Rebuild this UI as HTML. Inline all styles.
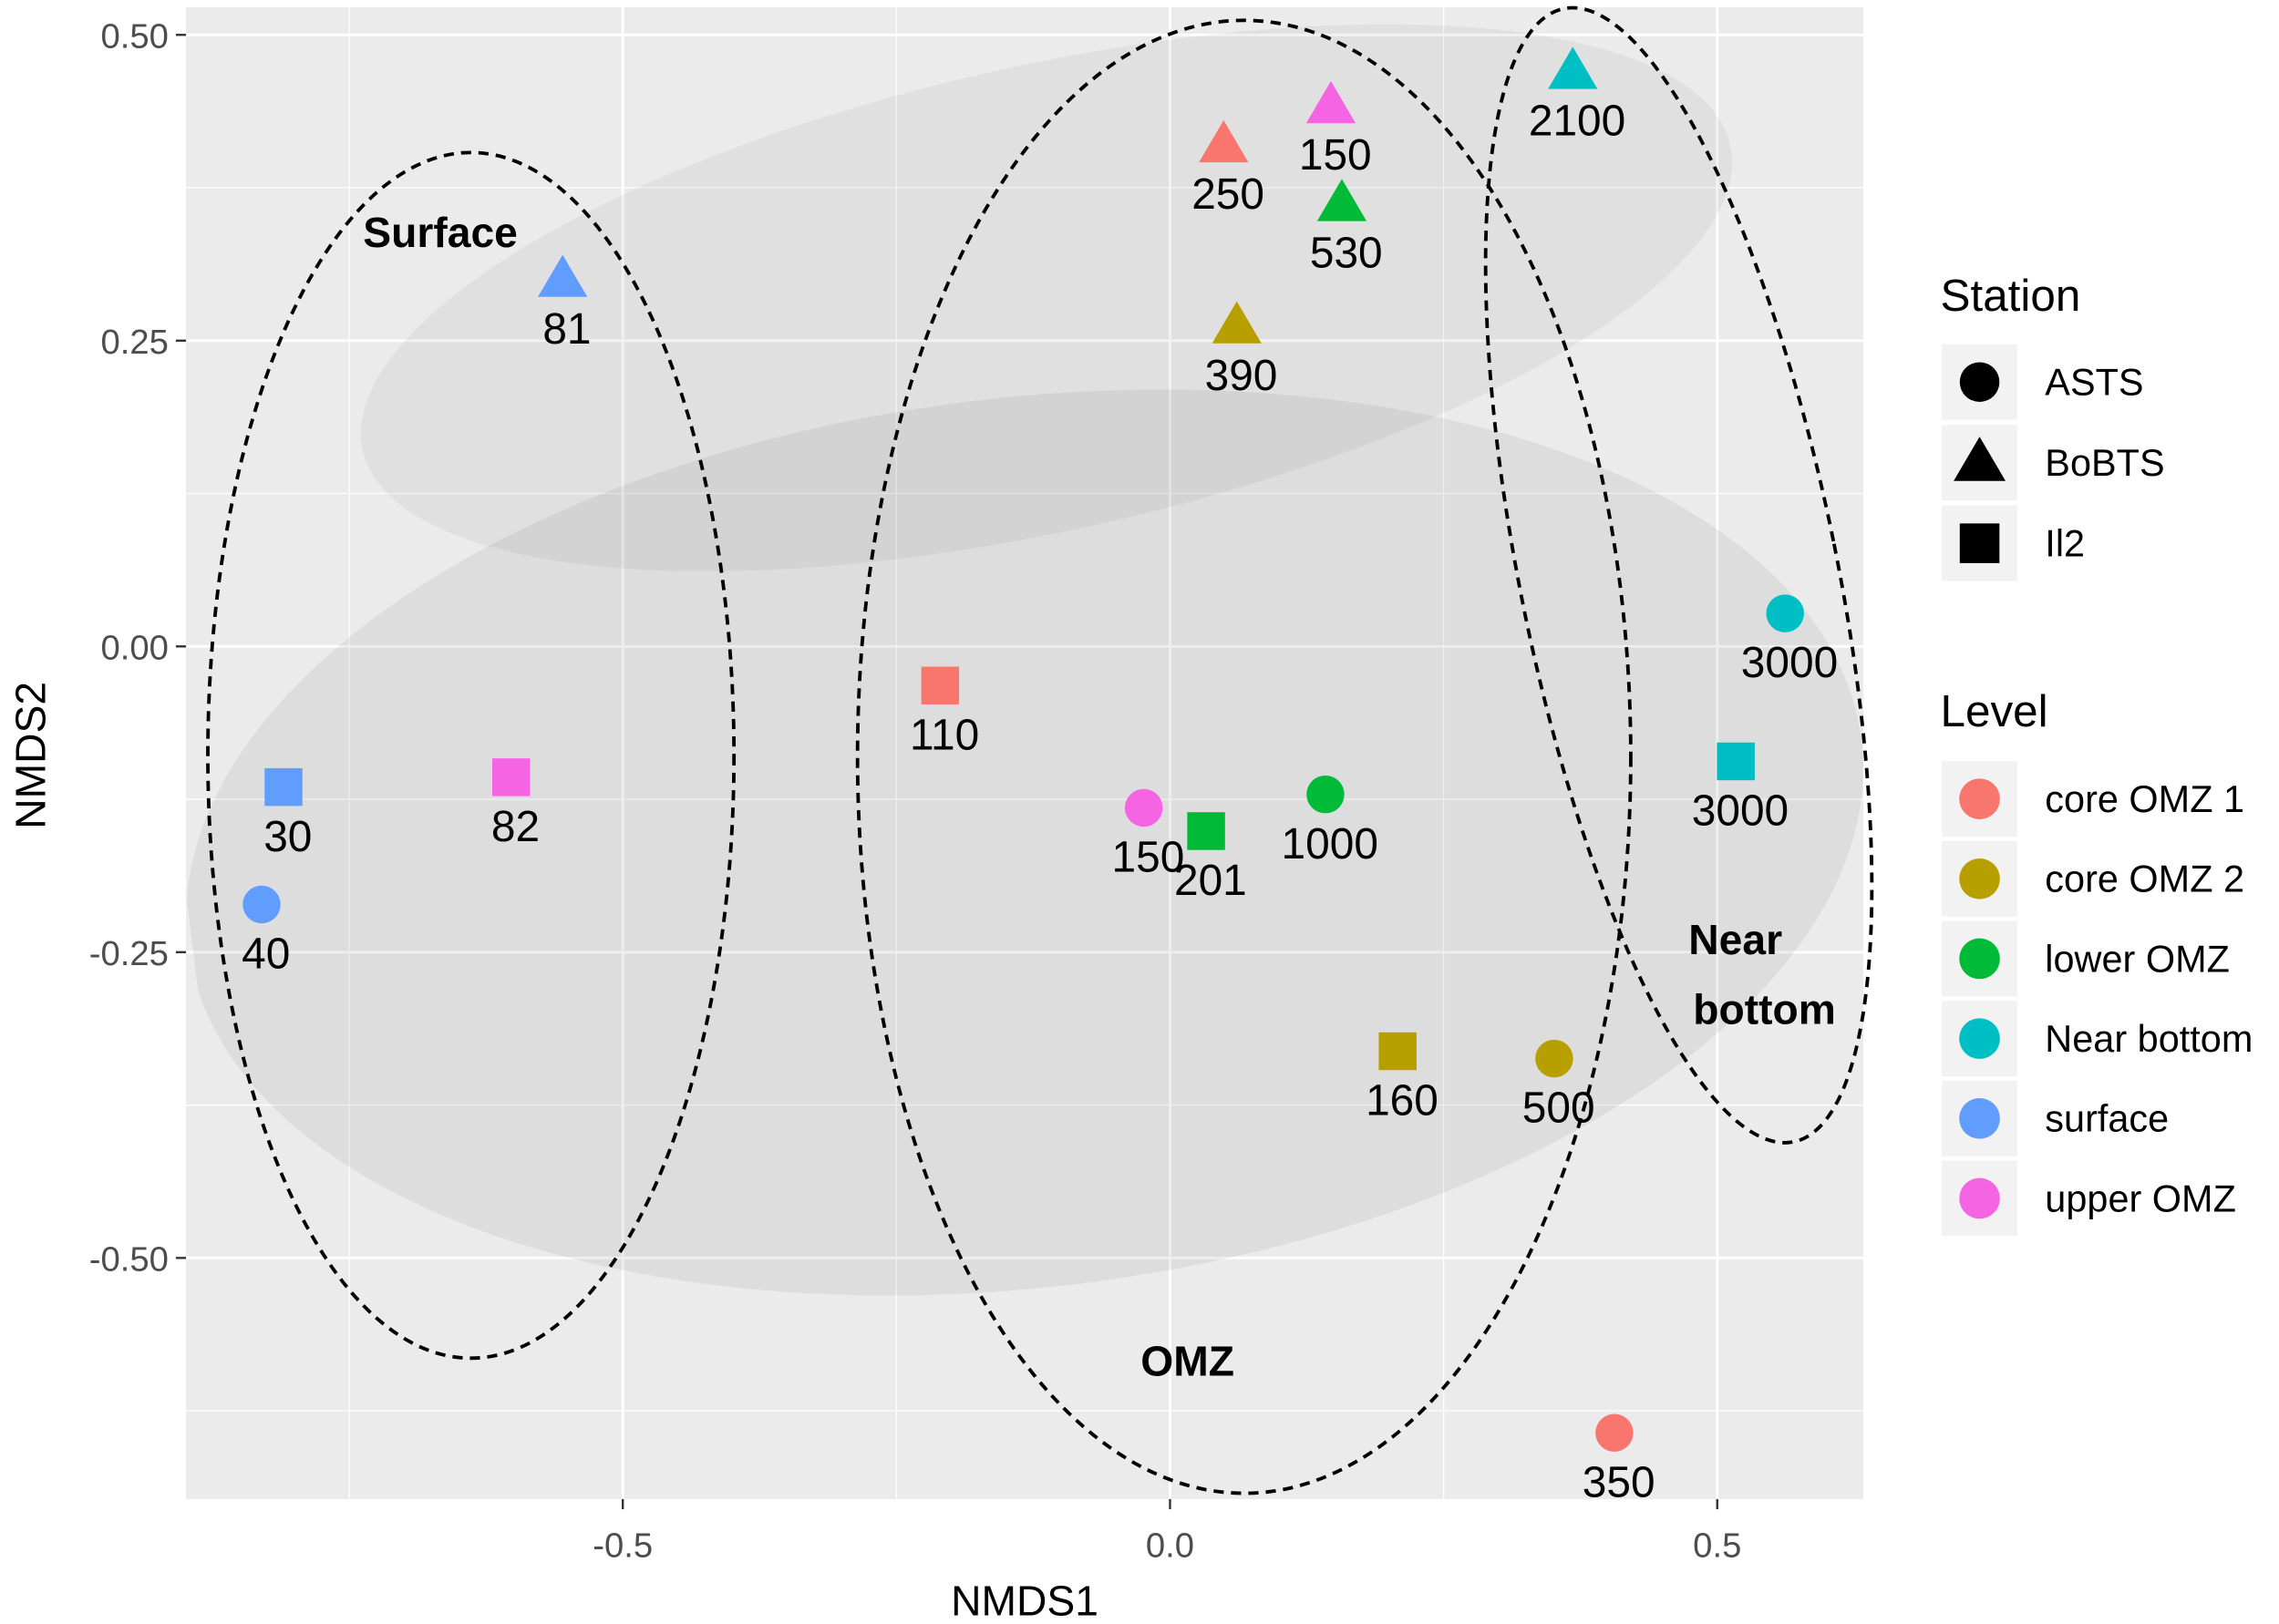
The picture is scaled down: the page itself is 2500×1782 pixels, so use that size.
<!DOCTYPE html>
<html><head><meta charset="utf-8"><style>
html,body{margin:0;padding:0;background:#fff;}
svg{display:block;font-family:"Liberation Sans",sans-serif;}
</style></head><body>
<svg id="chart" width="2500" height="1782" viewBox="0 0 1568 1118" preserveAspectRatio="none" xmlns="http://www.w3.org/2000/svg">
<rect x="128" y="5" width="1154" height="1027" fill="#EBEBEB"/>
<g id="grid"></g>
<g id="hulls"></g>
<g id="marks"></g>
<g id="axes"></g>
<g font-weight="bold" font-size="29" fill="#000" text-anchor="middle">
<text x="303" y="170">Surface</text>
<text x="817" y="947">OMZ</text>
<text x="1194" y="657">Near</text>
<text x="1214" y="705">bottom</text>
</g>
<text x="705" y="1112" font-size="29" text-anchor="middle">NMDS1</text>
<text x="0" y="0" font-size="29" text-anchor="middle" transform="translate(31,520) rotate(-90)">NMDS2</text>
<g id="legend"></g>
</svg>
<script>
const xTicks = [-0.5, 0.0, 0.5];
const xTickLabels = ["-0.5", "0.0", "0.5"];
const yTicks = [0.5, 0.25, 0.0, -0.25, -0.5];
const yTickLabels = ["0.50", "0.25", "0.00", "-0.25", "-0.50"];
const xMinor = [-0.75, -0.25, 0.25];
const yMinor = [0.375, 0.125, -0.125, -0.375, -0.625];
const levels = ["core OMZ 1", "core OMZ 2", "lower OMZ", "Near bottom", "surface", "upper OMZ"];
const levelColors = ["#F8766D", "#B79F00", "#00BA38", "#00BFC4", "#619CFF", "#F564E3"];
const stations = ["ASTS", "BoBTS", "Il2"];
const sampleLabels = ["81","30","40","82","110","150","201","1000","160","500","350","3000","3000","250","150","530","390","2100"];
const sampleX = [-0.555,-0.810,-0.830,-0.602,-0.210,-0.024,0.033,0.142,0.208,0.351,0.406,0.562,0.517,0.049,0.147,0.157,0.061,0.368];
const sampleY = [0.300,-0.115,-0.211,-0.107,-0.032,-0.132,-0.151,-0.121,-0.331,-0.337,-0.643,0.027,-0.094,0.410,0.442,0.362,0.262,0.470];
const sampleStation = [1,2,0,2,2,0,2,0,2,0,0,0,2,1,1,1,1,1];
const sampleLevel = [4,4,4,5,0,5,2,2,1,1,0,3,3,0,5,2,1,3];

const NS = "http://www.w3.org/2000/svg";
const X0 = 128, X1 = 1282, Y0 = 5, Y1 = 1032;
function xs(v){ return 805 + 753 * v; }
function ys(v){ return 445 - 842 * v; }
function mk(tag, attrs, parent){ const e = document.createElementNS(NS, tag); for (const k in attrs) e.setAttribute(k, attrs[k]); parent.appendChild(e); return e; }

const grid = document.getElementById('grid');
xMinor.forEach(v => { const l = mk('line', {x1: xs(v), x2: xs(v), y1: Y0, y2: Y1, stroke: '#fff', 'stroke-width': 0.8}, grid);
  
   });
yMinor.forEach(v => { const l = mk('line', {x1: X0, x2: X1, y1: ys(v), y2: ys(v), stroke: '#fff', 'stroke-width': 0.8}, grid);
  
   });
xTicks.forEach(v => { const l = mk('line', {x1: xs(v), x2: xs(v), y1: Y0, y2: Y1, stroke: '#fff', 'stroke-width': 1.8}, grid);
  
   });
yTicks.forEach(v => { const l = mk('line', {x1: X0, x2: X1, y1: ys(v), y2: ys(v), stroke: '#fff', 'stroke-width': 1.8}, grid);
  
   });

const hulls = document.getElementById('hulls');
const clip = mk('clipPath', {id: 'pclip'}, hulls);
mk('rect', {x: X0, y: 0, width: X1 - X0 + 20, height: Y1}, clip);
const g1 = mk('ellipse', {cx: 720, cy: 205, rx: 482, ry: 160, transform: 'rotate(-12.6 720 205)', fill: '#8a8a8a', 'fill-opacity': 0.11}, hulls);


const g2 = mk('ellipse', {cx: 705, cy: 580, rx: 580, ry: 306, transform: 'rotate(-7 705 580)', fill: '#8a8a8a', 'fill-opacity': 0.15, 'clip-path': 'url(#pclip)'}, hulls);


const dash = {fill: 'none', stroke: '#000', 'stroke-width': 2.4, 'stroke-dasharray': '7 5'};
const d1 = mk('ellipse', Object.assign({cx: 324, cy: 520, rx: 181, ry: 415}, dash), hulls);


const d2 = mk('ellipse', Object.assign({cx: 856, cy: 521, rx: 266, ry: 507}, dash), hulls);


const d3 = mk('ellipse', Object.assign({cx: 1155, cy: 396, rx: 109, ry: 398, transform: 'rotate(-11.45 1155 396)'}, dash), hulls);



function shape(st, cx, cy, color, parent, s){
  s = s || 1;
  if (st === 0) return mk('circle', {cx: cx, cy: cy, r: 13*s, fill: color}, parent);
  if (st === 1) return mk('polygon', {points: `${cx},${cy-17*s} ${cx-17*s},${cy+12*s} ${cx+17*s},${cy+12*s}`, fill: color}, parent);
  return mk('rect', {x: cx-13*s, y: cy-13*s, width: 26*s, height: 26*s, fill: color}, parent);
}
const marks = document.getElementById('marks');
sampleX.forEach((v, i) => {
  const px = xs(v), py = ys(sampleY[i]);
  const m = shape(sampleStation[i], px, py, levelColors[sampleLevel[i]], marks);
  
  
  const t = mk('text', {x: px + 3, y: py + 44, 'font-size': 30, 'text-anchor': 'middle', fill: '#000'}, marks);
  t.textContent = sampleLabels[i];
  
  
});

const axes = document.getElementById('axes');
xTicks.forEach((v, i) => {
  mk('line', {x1: xs(v), x2: xs(v), y1: Y1, y2: Y1 + 7, stroke: '#333', 'stroke-width': 1.5}, axes);
  const t = mk('text', {x: xs(v), y: Y1 + 40, 'font-size': 24, 'text-anchor': 'middle', fill: '#4d4d4d'}, axes);
  t.textContent = xTickLabels[i];
  
  
});
yTicks.forEach((v, i) => {
  mk('line', {x1: X0 - 7, x2: X0, y1: ys(v), y2: ys(v), stroke: '#333', 'stroke-width': 1.5}, axes);
  const t = mk('text', {x: X0 - 12, y: ys(v) + 9, 'font-size': 24, 'text-anchor': 'end', fill: '#4d4d4d'}, axes);
  t.textContent = yTickLabels[i];
  
  
});

const legend = document.getElementById('legend');
const st1 = mk('text', {x: 1335, y: 214, 'font-size': 31}, legend);
st1.textContent = 'Station';


stations.forEach((s, i) => {
  const cy = 263 + i * 55.5;
  mk('rect', {x: 1336, y: cy - 26, width: 52, height: 52, fill: '#f2f2f2'}, legend);
  shape(i, 1362, cy, '#000', legend, 1.05);
  const t = mk('text', {x: 1407, y: cy + 9, 'font-size': 26}, legend);
  t.textContent = s;
  
  
});
const lt = mk('text', {x: 1335, y: 500, 'font-size': 31}, legend);
lt.textContent = 'Level';


levels.forEach((s, i) => {
  const cy = 550 + i * 55;
  mk('rect', {x: 1336, y: cy - 26, width: 52, height: 52, fill: '#f2f2f2'}, legend);
  mk('circle', {cx: 1362, cy: cy, r: 14, fill: levelColors[i]}, legend);
  const t = mk('text', {x: 1407, y: cy + 9, 'font-size': 26}, legend);
  t.textContent = s;
  
  
});
</script>
</body></html>
